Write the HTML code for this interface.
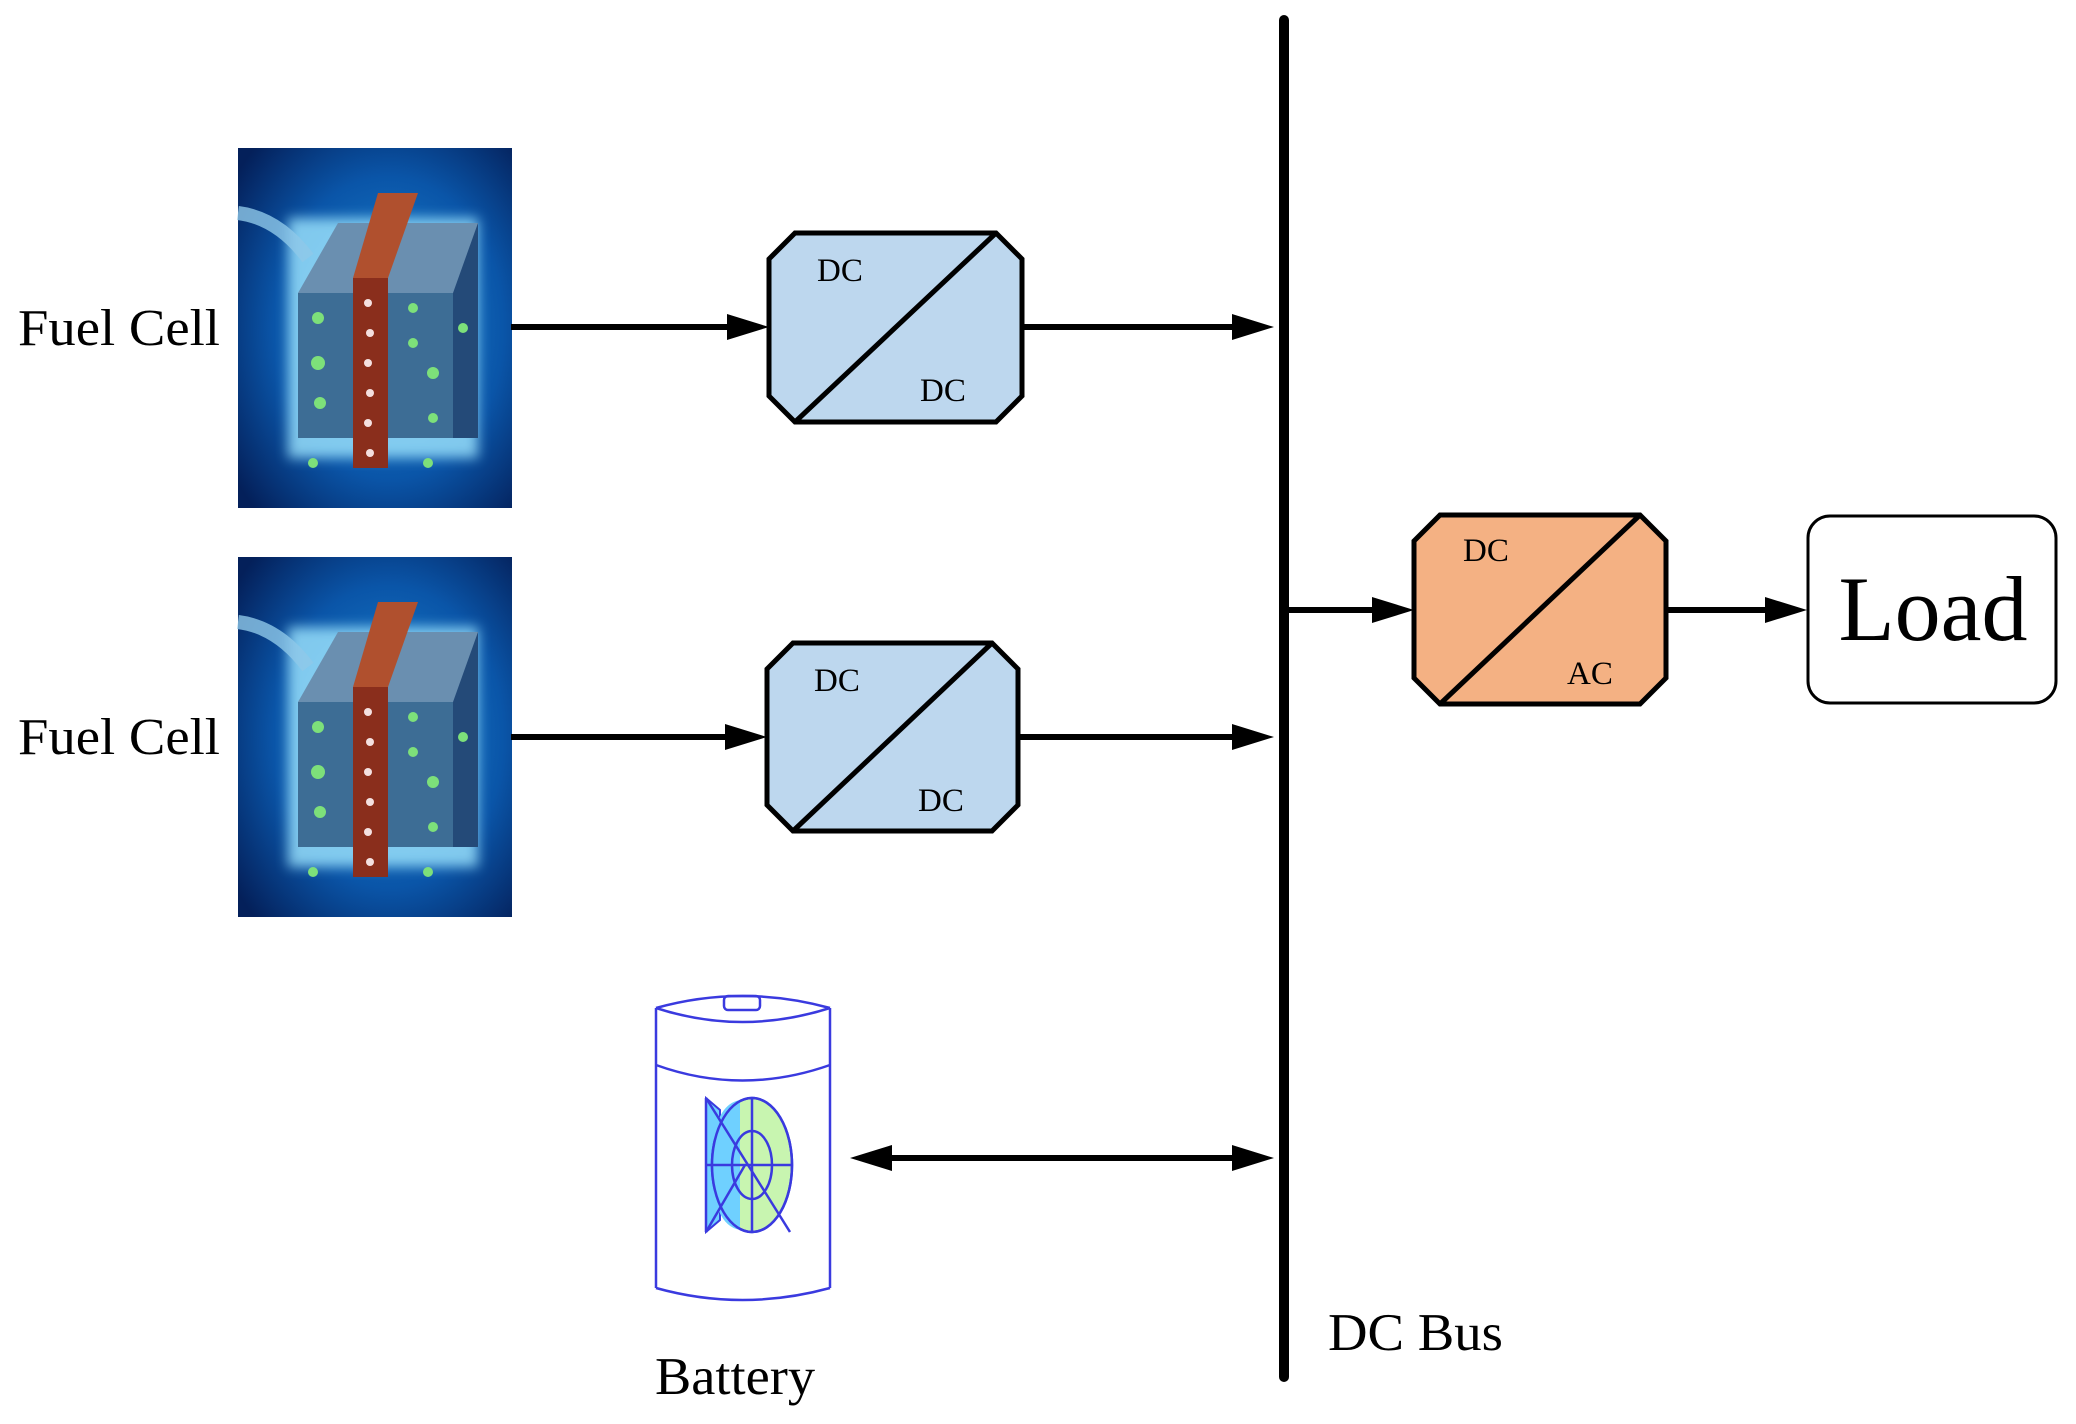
<!DOCTYPE html>
<html><head><meta charset="utf-8"><style>
html,body{margin:0;padding:0;background:#fff}
svg{display:block}
text{font-family:"Liberation Serif",serif;fill:#000}
</style></head><body>
<svg width="2076" height="1424" viewBox="0 0 2076 1424" xmlns="http://www.w3.org/2000/svg">
<defs>
<radialGradient id="bg" cx="0.55" cy="0.5" r="0.7">
<stop offset="0" stop-color="#1d8ad6"/><stop offset="0.6" stop-color="#0a55a8"/><stop offset="1" stop-color="#04205a"/>
</radialGradient>
<filter id="glow"><feGaussianBlur stdDeviation="6"/></filter>
<g id="fc">
<rect x="0" y="0" width="274" height="360" fill="url(#bg)"/>
<rect x="50" y="70" width="190" height="240" fill="#9fe6ff" opacity="0.8" filter="url(#glow)"/>
<polygon points="60,145 240,145 240,290 60,290" fill="#3d6d95"/>
<polygon points="60,145 100,75 240,75 240,145" fill="#6a8fb0"/>
<polygon points="215,145 240,75 240,290 215,290" fill="#244a78"/>
<polygon points="115,130 140,45 180,45 150,130" fill="#b0502e"/>
<rect x="115" y="130" width="35" height="190" fill="#8a2e1c"/>
<g fill="#f4e0e0"><circle cx="130" cy="155" r="4"/><circle cx="132" cy="185" r="4"/><circle cx="130" cy="215" r="4"/><circle cx="132" cy="245" r="4"/><circle cx="130" cy="275" r="4"/><circle cx="132" cy="305" r="4"/></g>
<g fill="#7de07a"><circle cx="80" cy="170" r="6"/><circle cx="80" cy="215" r="7"/><circle cx="82" cy="255" r="6"/><circle cx="175" cy="160" r="5"/><circle cx="175" cy="195" r="5"/><circle cx="195" cy="225" r="6"/><circle cx="195" cy="270" r="5"/><circle cx="225" cy="180" r="5"/><circle cx="75" cy="315" r="5"/><circle cx="190" cy="315" r="5"/></g>
<path d="M0,65 Q40,70 70,110" stroke="#8fc8e8" stroke-width="14" fill="none" opacity="0.8"/>
</g>
</defs>

<line x1="1284" y1="20" x2="1284" y2="1377" stroke="#000" stroke-width="10" stroke-linecap="round"/>

<use href="#fc" x="238" y="148"/>
<use href="#fc" x="238" y="557"/>
<text x="18" y="345" font-size="52" textLength="202" lengthAdjust="spacingAndGlyphs">Fuel Cell</text>
<text x="18" y="754" font-size="52" textLength="202" lengthAdjust="spacingAndGlyphs">Fuel Cell</text>

<g stroke="#000" stroke-width="6">
<line x1="511" y1="327" x2="740" y2="327"/>
<line x1="1022" y1="327" x2="1245" y2="327"/>
<line x1="511" y1="737" x2="738" y2="737"/>
<line x1="1018" y1="737" x2="1245" y2="737"/>
<line x1="1289" y1="610" x2="1385" y2="610"/>
<line x1="1666" y1="610" x2="1778" y2="610"/>
<line x1="880" y1="1158" x2="1245" y2="1158"/>
</g>
<g fill="#000">
<polygon points="727,314 769,327 727,340"/>
<polygon points="1232,314 1274,327 1232,340"/>
<polygon points="725,724 767,737 725,750"/>
<polygon points="1232,724 1274,737 1232,750"/>
<polygon points="1372,597 1414,610 1372,623"/>
<polygon points="1765,597 1807,610 1765,623"/>
<polygon points="1232,1145 1274,1158 1232,1171"/>
<polygon points="892,1145 850,1158 892,1171"/>
</g>

<polygon points="795,233 996,233 1022,259 1022,396 996,422 795,422 769,396 769,259" fill="#bdd7ee" stroke="#000" stroke-width="5"/>
<line x1="795" y1="422" x2="996" y2="233" stroke="#000" stroke-width="5"/>
<text x="817" y="281" font-size="33">DC</text>
<text x="920" y="401" font-size="33">DC</text>
<polygon points="793,643 992,643 1018,669 1018,805 992,831 793,831 767,805 767,669" fill="#bdd7ee" stroke="#000" stroke-width="5"/>
<line x1="793" y1="831" x2="992" y2="643" stroke="#000" stroke-width="5"/>
<text x="814" y="691" font-size="33">DC</text>
<text x="918" y="811" font-size="33">DC</text>
<polygon points="1440,515 1640,515 1666,541 1666,678 1640,704 1440,704 1414,678 1414,541" fill="#f4b183" stroke="#000" stroke-width="5"/>
<line x1="1440" y1="704" x2="1640" y2="515" stroke="#000" stroke-width="5"/>
<text x="1463" y="561" font-size="33">DC</text>
<text x="1567" y="684" font-size="33">AC</text>
<rect x="1808" y="516" width="248" height="187" rx="22" fill="#fff" stroke="#000" stroke-width="3"/>
<text x="1933" y="640" font-size="92" text-anchor="middle">Load</text>

<g stroke="#3a3adf" stroke-width="2.5" fill="none">
<path d="M656,1008 Q742,984 830,1008"/>
<path d="M656,1008 Q742,1036 830,1008"/>
<rect x="724" y="996" width="36" height="14" rx="4"/>
<line x1="656" y1="1008" x2="656" y2="1288"/>
<line x1="830" y1="1008" x2="830" y2="1288"/>
<path d="M656,1065 Q742,1096 830,1065"/>
<path d="M656,1288 Q742,1312 830,1288"/>
</g>
<path d="M706,1098 L706,1232 L720,1220 L720,1110 z" fill="#6fd0ff" stroke="#3a3adf" stroke-width="2"/>
<ellipse cx="752" cy="1165" rx="40" ry="67" fill="#c8f5b0" stroke="#3a3adf" stroke-width="2.5"/>
<path d="M712,1165 Q712,1105 740,1100 L740,1230 Q712,1225 712,1165z" fill="#6fd0ff" stroke="none"/>
<g stroke="#3a3adf" stroke-width="2.5" fill="none">
<ellipse cx="752" cy="1165" rx="40" ry="67"/>
<ellipse cx="752" cy="1165" rx="20" ry="34"/>
<line x1="706" y1="1165" x2="792" y2="1165"/>
<line x1="752" y1="1098" x2="752" y2="1232"/>
<line x1="706" y1="1098" x2="790" y2="1232"/>
<line x1="706" y1="1232" x2="745" y2="1165"/>
<line x1="706" y1="1098" x2="706" y2="1232"/>
</g>
<text x="655" y="1394" font-size="53" textLength="160" lengthAdjust="spacingAndGlyphs">Battery</text>
<text x="1328" y="1350" font-size="53" textLength="175" lengthAdjust="spacingAndGlyphs">DC Bus</text>
</svg>
</body></html>
